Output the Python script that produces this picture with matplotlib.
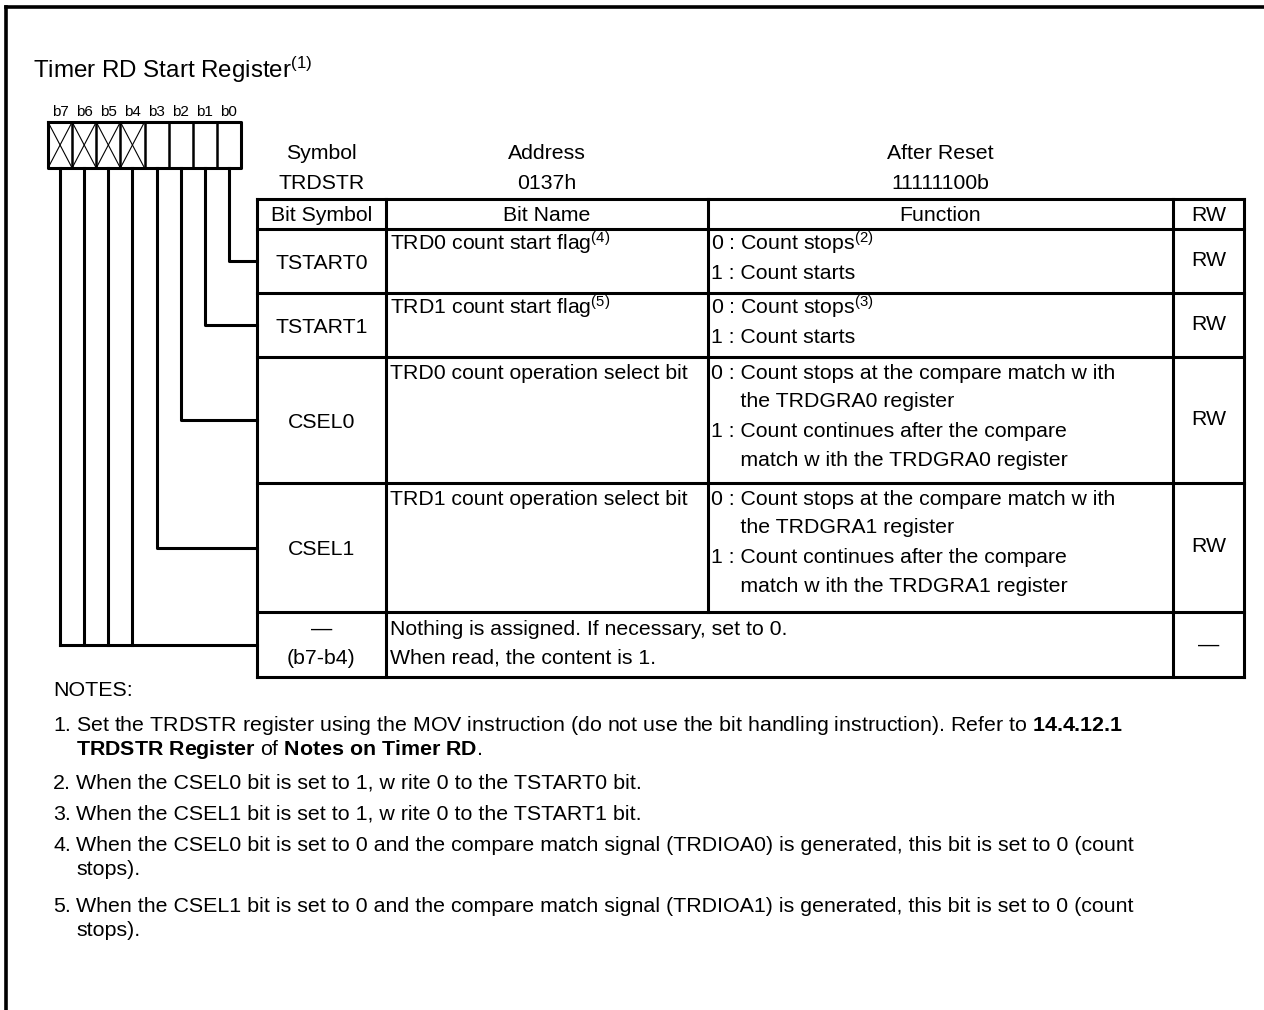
import matplotlib
matplotlib.use("Agg")
import matplotlib.pyplot as plt

plt.rcParams['font.family'] = ['Liberation Sans', 'DejaVu Sans']
plt.rcParams['mathtext.fontset'] = 'custom'
plt.rcParams['mathtext.rm'] = 'Liberation Sans'
plt.rcParams['mathtext.it'] = 'Liberation Sans:italic'
plt.rcParams['mathtext.bf'] = 'Liberation Sans:bold'

# register contents
title = r"Timer RD Start Register$^{\rm (1)}$"
bit_labels = ["b7", "b6", "b5", "b4", "b3", "b2", "b1", "b0"]
reserved = [True, True, True, True, False, False, False, False]
head_names = ["Symbol", "Address", "After Reset"]
head_values = ["TRDSTR", "0137h", "11111100b"]
col_titles = ["Bit Symbol", "Bit Name", "Function", "RW"]

symbols = ["TSTART0", "TSTART1", "CSEL0", "CSEL1"]
bit_names = [r"TRD0 count start flag$^{\rm (4)}$",
             r"TRD1 count start flag$^{\rm (5)}$",
             "TRD0 count operation select bit",
             "TRD1 count operation select bit"]
functions = [
    [r"0 : Count stops$^{\rm (2)}$", "1 : Count starts"],
    [r"0 : Count stops$^{\rm (3)}$", "1 : Count starts"],
    ["0 : Count stops at the compare match w ith", "     the TRDGRA0 register",
     "1 : Count continues after the compare", "     match w ith the TRDGRA0 register"],
    ["0 : Count stops at the compare match w ith", "     the TRDGRA1 register",
     "1 : Count continues after the compare", "     match w ith the TRDGRA1 register"],
]
rw = ["RW", "RW", "RW", "RW"]
row_bits = [0, 1, 2, 3]  # bit number each row is wired to
reserved_symbol = ["\u2014", "(b7-b4)"]
reserved_text = ["Nothing is assigned. If necessary, set to 0.", "When read, the content is 1."]
reserved_rw = "\u2014"

notes = [
    ["Set the TRDSTR register using the MOV instruction (do not use the bit handling instruction). Refer to $\\mathbf{14.4.12.1}$",
     "$\\mathbf{TRDSTR\\ Register}$ of $\\mathbf{Notes\\ on\\ Timer\\ RD}$."],
    ["When the CSEL0 bit is set to 1, w rite 0 to the TSTART0 bit."],
    ["When the CSEL1 bit is set to 1, w rite 0 to the TSTART1 bit."],
    ["When the CSEL0 bit is set to 0 and the compare match signal (TRDIOA0) is generated, this bit is set to 0 (count",
     "stops)."],
    ["When the CSEL1 bit is set to 0 and the compare match signal (TRDIOA1) is generated, this bit is set to 0 (count",
     "stops)."],
]

# layout (pixels)
W, H = 1264, 1010
fig = plt.figure(figsize=(W / 100, H / 100), dpi=100)
ax = fig.add_axes([0, 0, 1, 1])
ax.set_xlim(0, W)
ax.set_ylim(H, 0)
ax.axis("off")

LW = 2.2
FS = 15.3
NFS = 15.4
k = dict(color="black", solid_capstyle="projecting")


def txt(x, y, s, ha="left", size=FS, **kw):
    # y is the visual centre of capital letters
    ax.text(x, y + size * 0.5, s, ha=ha, va="baseline", fontsize=size, **kw)


# outer frame (top and left only)
ax.plot([6, W], [7, 7], lw=2.6, **k)
ax.plot([6, 6], [7, H], lw=2.6, **k)

txt(33, 69, title, size=17.4)

# bit box
bx0, bx1, by0, by1 = 48, 241, 122, 168
cw = (bx1 - bx0) / 8
centers = [bx0 + cw * (i + 0.5) for i in range(8)]
for i, lab in enumerate(bit_labels):
    txt(centers[i], 111, lab, ha="center", size=11)
    if reserved[i]:
        x0, x1 = bx0 + cw * i, bx0 + cw * (i + 1)
        ax.plot([x0, x1], [by0, by1], lw=0.8, color="black")
        ax.plot([x0, x1], [by1, by0], lw=0.8, color="black")
for i in range(1, 8):
    ax.plot([bx0 + cw * i] * 2, [by0, by1], lw=1.8, **k)
ax.plot([bx0, bx1, bx1, bx0, bx0], [by0, by0, by1, by1, by0], lw=LW, **k)

# table
cols = [257, 386, 708, 1173, 1244]
rows = [199, 229, 293, 357, 483, 612, 677]
line_off = [14, 42, 72, 101]

for i, (n, v) in enumerate(zip(head_names, head_values)):
    cx = (cols[i] + cols[i + 1]) / 2
    txt(cx, 151, n, ha="center")
    txt(cx, 181, v, ha="center")

for r in rows:
    ax.plot([cols[0], cols[-1]], [r, r], lw=LW, **k)
for c in (cols[0], cols[1], cols[3], cols[4]):
    ax.plot([c, c], [rows[0], rows[-1]], lw=LW, **k)
ax.plot([cols[2], cols[2]], [rows[0], rows[-2]], lw=LW, **k)

for i, t in enumerate(col_titles):
    txt((cols[i] + cols[i + 1]) / 2, 213, t, ha="center")

for j in range(len(symbols)):
    top, bot = rows[j + 1], rows[j + 2]
    mid = (top + bot) / 2
    txt((cols[0] + cols[1]) / 2, mid, symbols[j], ha="center")
    txt(cols[1] + 4, top + line_off[0], bit_names[j])
    for m, line in enumerate(functions[j]):
        txt(cols[2] + 3, top + line_off[m], line)
    txt((cols[3] + cols[4]) / 2, mid - 3, rw[j], ha="center")
    # leader line from the bit box
    bx = centers[7 - row_bits[j]]
    ax.plot([bx, bx, cols[0]], [by1, mid, mid], lw=LW, **k)

top, bot = rows[-2], rows[-1]
mid = (top + bot) / 2
txt((cols[0] + cols[1]) / 2, top + 15, reserved_symbol[0], ha="center")
txt((cols[0] + cols[1]) / 2, top + 44, reserved_symbol[1], ha="center")
txt(cols[1] + 4, top + 15, reserved_text[0])
txt(cols[1] + 4, top + 44, reserved_text[1])
txt((cols[3] + cols[4]) / 2, mid - 1, reserved_rw, ha="center")
for i in range(8):
    if reserved[i]:
        ax.plot([centers[i]] * 2, [by1, mid], lw=LW, **k)
ax.plot([centers[0], cols[0]], [mid, mid], lw=LW, **k)

# notes
txt(53, 688, "NOTES:", size=NFS)
note_y = [723, 781, 812, 843, 904]
for n, (lines, y) in enumerate(zip(notes, note_y)):
    txt(53, y, f"{n + 1}.", size=NFS)
    for m, line in enumerate(lines):
        txt(76, y + 24 * m, line, size=NFS)

fig.savefig("out.png", dpi=100)
